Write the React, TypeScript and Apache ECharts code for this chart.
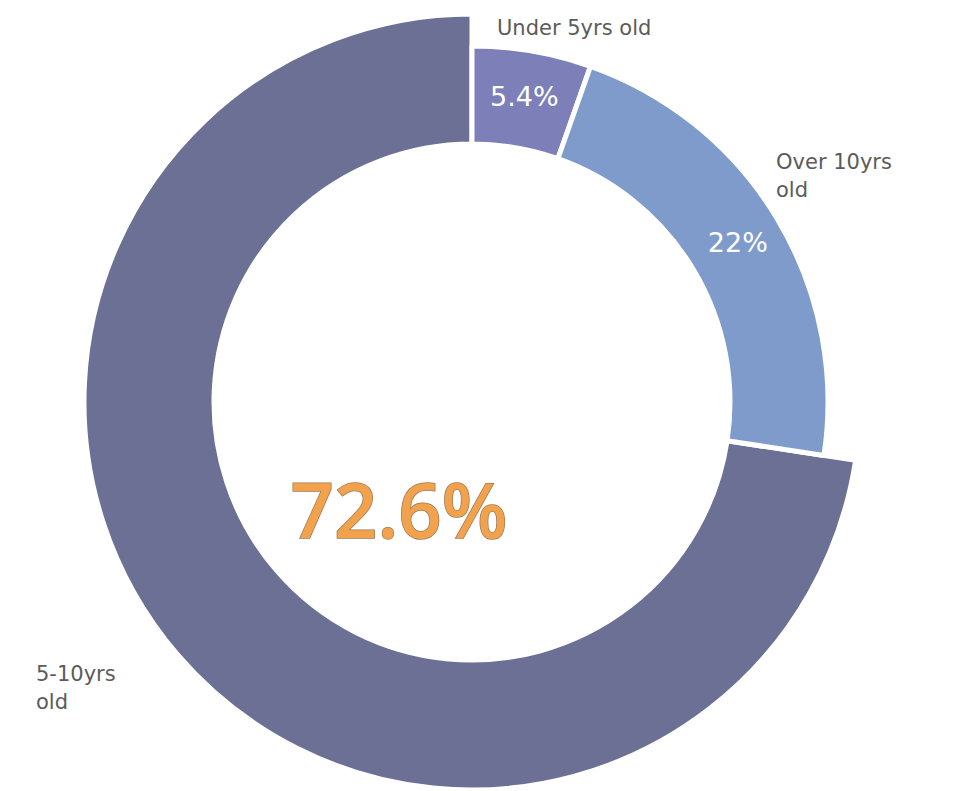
import React, { useEffect, useRef } from "react";
import * as echarts from "echarts";

const categories = ["Under 5yrs old", "Over 10yrs old", "5-10yrs old"];
const shares = [5.4, 22, 72.6];
const nameLabels = ["Under 5yrs old", "Over 10yrs\nold", "5-10yrs\nold"];
const sliceColors = ["#7c7fb8", "#7f9bcb", "#6b7094"];
const bigIndex = 2;

export default function App() {
  const ref = useRef<HTMLDivElement>(null);
  useEffect(() => {
    if (!ref.current) return;
    const chart = echarts.init(ref.current, null, { renderer: "svg" });
    const center = [472, 402];
    const smallData = categories.map((c, i) => ({
      name: c,
      value: shares[i],
      itemStyle:
        i === bigIndex
          ? { color: "rgba(0,0,0,0)", borderWidth: 0 }
          : { color: sliceColors[i], borderColor: "#ffffff", borderWidth: 5 },
      label: { show: i !== bigIndex },
    }));
    const bigData = categories.map((c, i) => ({
      name: c,
      value: shares[i],
      itemStyle:
        i === bigIndex
          ? { color: sliceColors[i], borderColor: "#ffffff", borderWidth: 5 }
          : { color: "rgba(0,0,0,0)", borderWidth: 0 },
    }));
    const nameText = (text: string, x: number, y: number, align: string) => ({
      type: "text",
      x,
      y,
      style: {
        text,
        fill: "#5b5b5b",
        font: '21px "DejaVu Sans"',
        align,
        verticalAlign: "top",
        lineHeight: 28,
      },
    });
    chart.setOption({
      animation: false,
      backgroundColor: "#ffffff",
      series: [
        {
          type: "pie",
          center,
          radius: [258, 388],
          startAngle: 90,
          clockwise: true,
          silent: true,
          label: { show: false },
          labelLine: { show: false },
          data: bigData,
        },
        {
          type: "pie",
          center,
          radius: [258, 356],
          startAngle: 90,
          clockwise: true,
          silent: true,
          label: {
            show: true,
            position: "inside",
            formatter: (p: any) => `${p.value}%`,
            color: "#ffffff",
            fontSize: 27,
            fontFamily: "DejaVu Sans",
          },
          labelLine: { show: false },
          data: smallData,
        },
      ],
      graphic: [
        nameText(nameLabels[0], 497, 14, "left"),
        nameText(nameLabels[1], 776, 148, "left"),
        nameText(nameLabels[2], 36, 660, "left"),
        {
          type: "text",
          x: 399,
          y: 508,
          style: {
            text: `${shares[bigIndex]}%`,
            fill: "#f2a24c",
            stroke: "#9c7a55",
            lineWidth: 1.5,
            font: '600 76px "Open Sans"',
            align: "center",
            verticalAlign: "middle",
          },
        },
      ],
    });
    return () => chart.dispose();
  }, []);
  return (
    <div
      ref={ref}
      style={{ position: "fixed", left: 0, top: 0, width: 972, height: 791 }}
    />
  );
}
